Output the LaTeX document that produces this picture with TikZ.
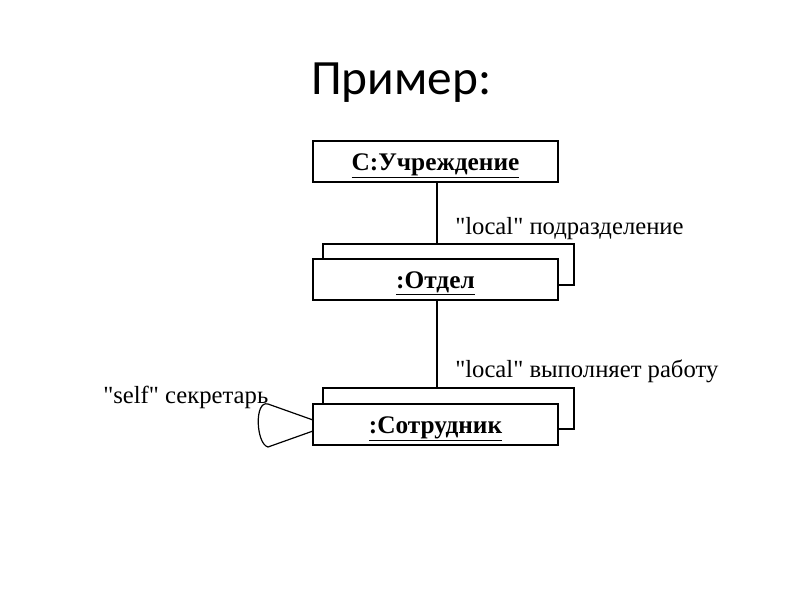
\documentclass[tikz,border=0pt]{standalone}
\usepackage{fontspec}
\setmainfont{Liberation Serif}[Ligatures=TeXOff]
\newfontfamily\titlefont{Carlito}
\usetikzlibrary{calc}
\begin{document}
\begin{tikzpicture}[x=0.75pt,y=-0.75pt,
  objbox/.style={draw,fill=white,line width=0.9pt,minimum width=183.75pt,minimum height=30.75pt,inner sep=0pt,outer sep=0pt,text height=15pt,text depth=2pt,font=\fontsize{19}{22}\selectfont\bfseries},
  backbox/.style={draw,line width=0.9pt,minimum width=188.25pt,minimum height=30.75pt,inner sep=0pt,outer sep=0pt},
  lbl/.style={anchor=base west,inner sep=0pt,font=\fontsize{18.5}{22}\selectfont},
  conn/.style={line width=0.9pt}]
\useasboundingbox (0,0) rectangle (800,600);
\node[anchor=base west,inner sep=0pt,font=\titlefont\fontsize{37}{42}\selectfont] (title) at (311,94) {Пример:};
\node[objbox] (b1) at (435.5,161.5) {\underline{C:Учреждение}};
\node[backbox] (b2back) at (448.5,264.5) {};
\node[objbox] (b2) at (435.5,279.5) {\underline{:Отдел}};
\node[backbox] (b3back) at (448.5,408.5) {};
\node[objbox] (b3) at (435.5,424.5) {\underline{:Сотрудник}};
\draw[conn] (b1.south -| 437,0) -- (b2back.north -| 437,0);
\draw[conn] (b2.south -| 437,0) -- (b3back.north -| 437,0);
\node[lbl] (l1) at (455,234) {"local" подразделение};
\node[lbl] (l2) at (455,377) {"local" выполняет работу};
\node[lbl] (l3) at (103,403) {"self" секретарь};
\coordinate (s1) at ($(b3.north west)+(0,16)$);
\coordinate (s2) at ($(b3.north west)+(0,27)$);
\draw[conn] (s1) -- (268,404) .. controls (254,400) and (256,444) .. (268,447) -- (s2);
\end{tikzpicture}
\end{document}
